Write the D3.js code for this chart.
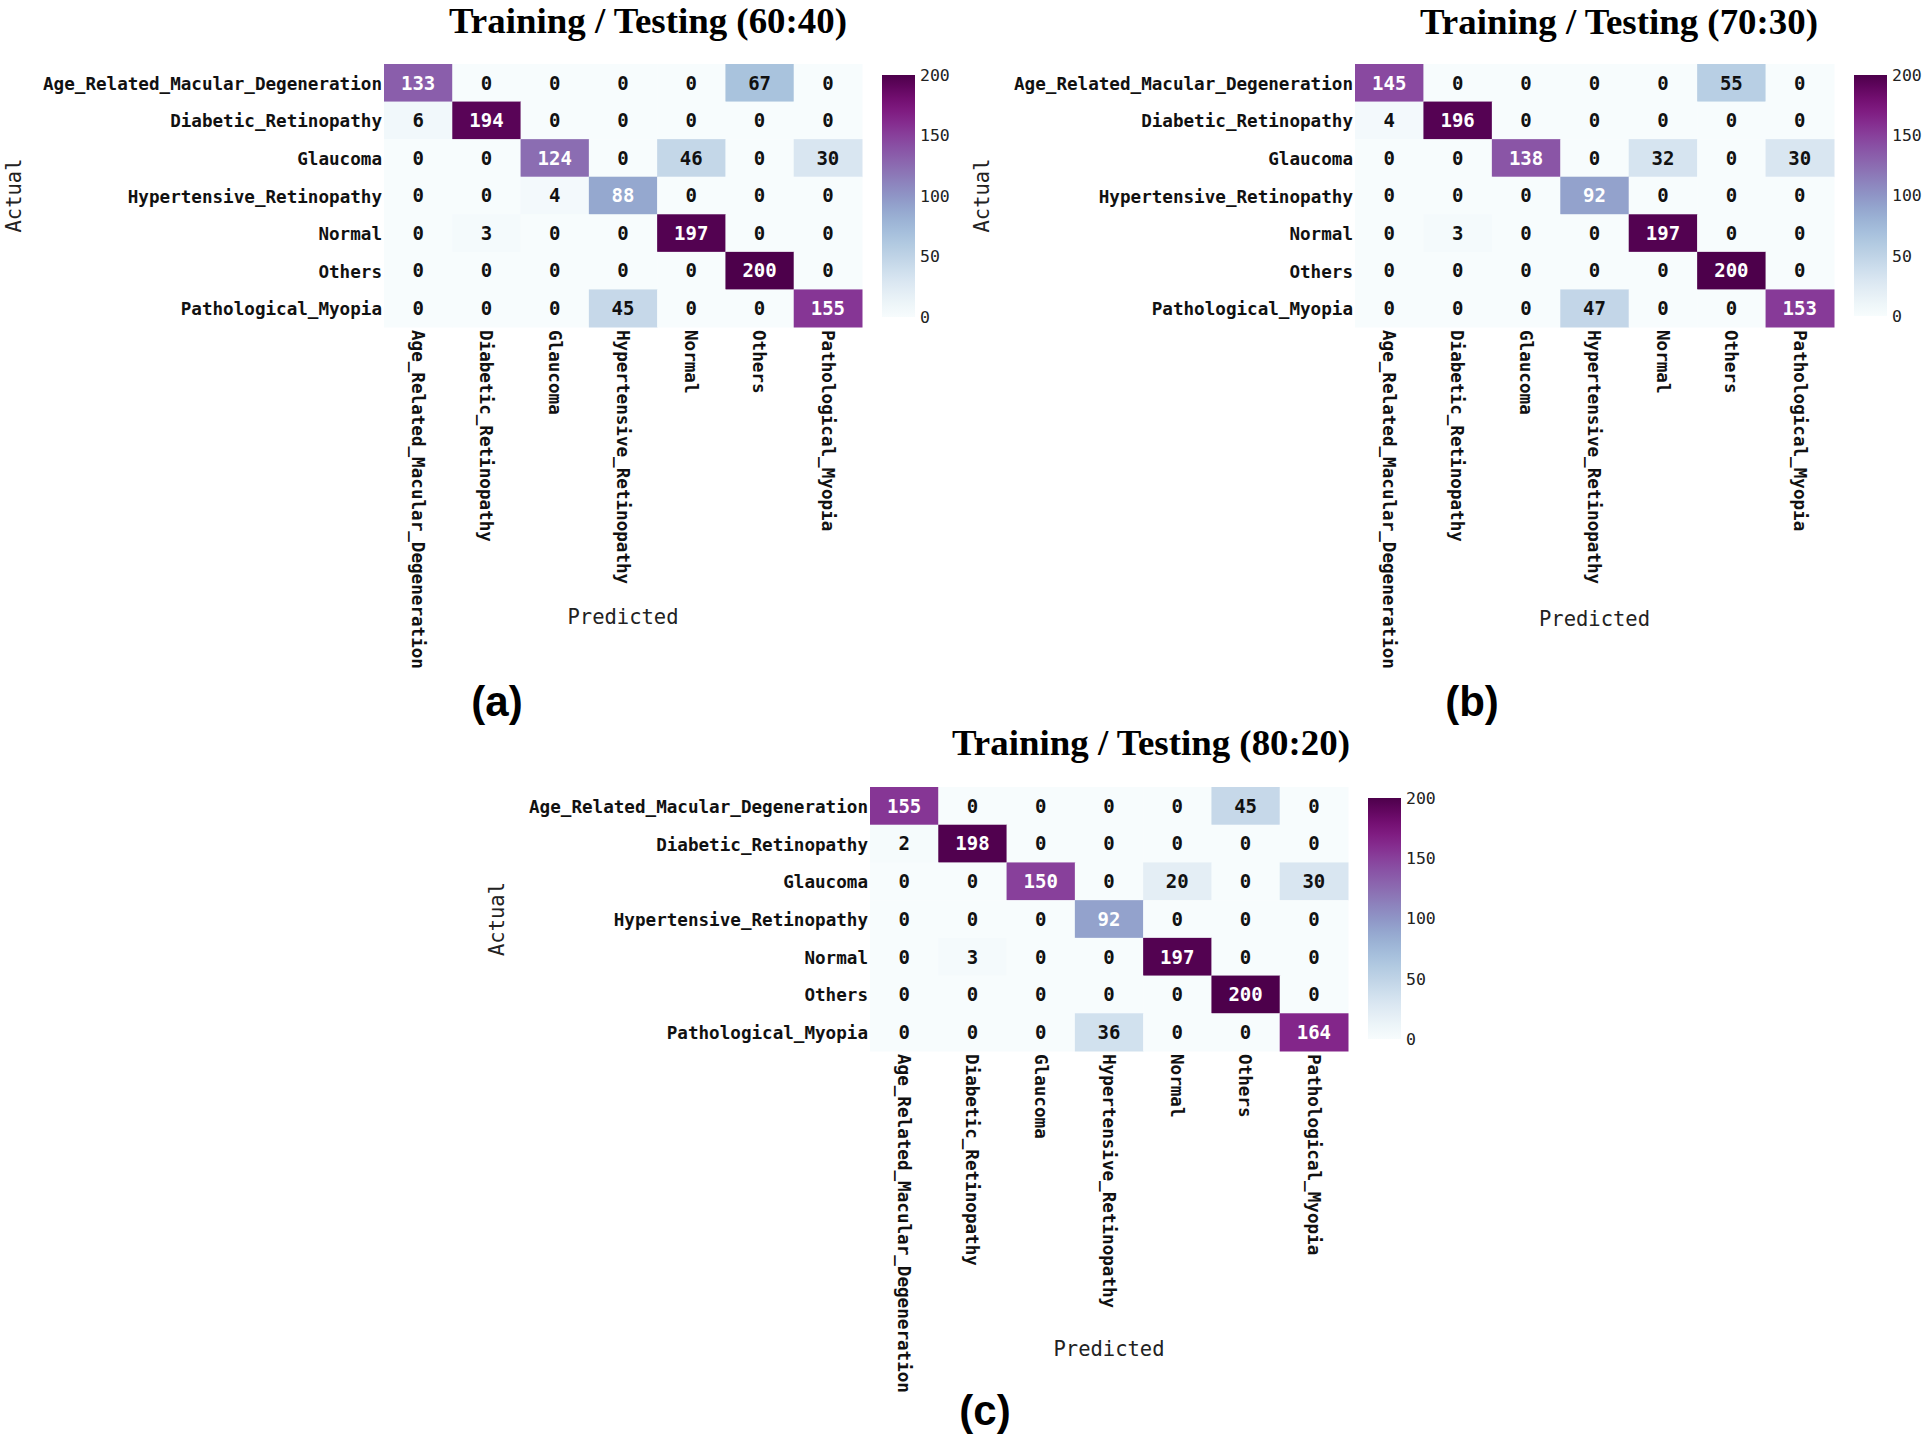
<!DOCTYPE html>
<html>
<head>
<meta charset="utf-8">
<script src="https://cdn.jsdelivr.net/npm/d3@7"></script>
<style>
  html, body { margin: 0; padding: 0; background: #fff; }
  svg { display: block; }
</style>
</head>
<body>
<svg id="chart" width="1925" height="1438"></svg>
<script>
// ---------- DATA ----------
const categories = [
  "Age_Related_Macular_Degeneration",
  "Diabetic_Retinopathy",
  "Glaucoma",
  "Hypertensive_Retinopathy",
  "Normal",
  "Others",
  "Pathological_Myopia"
];

const matrix6040 = [
  [133, 0, 0, 0, 0, 67, 0],
  [6, 194, 0, 0, 0, 0, 0],
  [0, 0, 124, 0, 46, 0, 30],
  [0, 0, 4, 88, 0, 0, 0],
  [0, 3, 0, 0, 197, 0, 0],
  [0, 0, 0, 0, 0, 200, 0],
  [0, 0, 0, 45, 0, 0, 155]
];

const matrix7030 = [
  [145, 0, 0, 0, 0, 55, 0],
  [4, 196, 0, 0, 0, 0, 0],
  [0, 0, 138, 0, 32, 0, 30],
  [0, 0, 0, 92, 0, 0, 0],
  [0, 3, 0, 0, 197, 0, 0],
  [0, 0, 0, 0, 0, 200, 0],
  [0, 0, 0, 47, 0, 0, 153]
];

const matrix8020 = [
  [155, 0, 0, 0, 0, 45, 0],
  [2, 198, 0, 0, 0, 0, 0],
  [0, 0, 150, 0, 20, 0, 30],
  [0, 0, 0, 92, 0, 0, 0],
  [0, 3, 0, 0, 197, 0, 0],
  [0, 0, 0, 0, 0, 200, 0],
  [0, 0, 0, 36, 0, 0, 164]
];

const panelTitles = ["Training / Testing (60:40)", "Training / Testing (70:30)", "Training / Testing (80:20)"];
const panelLetters = ["(a)", "(b)", "(c)"];
const colorbarTicks = [0, 50, 100, 150, 200];
const colorDomain = [0, 200];
const xAxisLabel = "Predicted";
const yAxisLabel = "Actual";

// ---------- LAYOUT ----------
const layouts = [
  { x0: 384, x1: 862, y0: 64, y1: 327, cbX0: 882, cbX1: 915, cbY0: 75, cbY1: 317,
    titleX: 648, titleY: 33, actualX: 14, predY: 624, letterX: 497, letterY: 716 },
  { x0: 1355, x1: 1834, y0: 64, y1: 327, cbX0: 1854, cbX1: 1887, cbY0: 75, cbY1: 316,
    titleX: 1619, titleY: 34, actualX: 982, predY: 626, letterX: 1472, letterY: 716 },
  { x0: 870, x1: 1348, y0: 787, y1: 1051, cbX0: 1368, cbX1: 1401, cbY0: 798, cbY1: 1039,
    titleX: 1151, titleY: 755, actualX: 497, predY: 1356, letterX: 985, letterY: 1425 }
];

const MONO = "'DejaVu Sans Mono', 'Liberation Mono', monospace";
const svg = d3.select("#chart");
svg.append("rect").attr("width", 1925).attr("height", 1438).attr("fill", "#fff");

const color = d3.scaleSequential(d3.interpolateBuPu).domain(colorDomain);

// gradient for colorbar
const defs = svg.append("defs");
const grad = defs.append("linearGradient").attr("id", "bupu")
  .attr("x1", 0).attr("y1", 1).attr("x2", 0).attr("y2", 0);
d3.range(0, 1.0001, 0.05).forEach(t => {
  grad.append("stop").attr("offset", t).attr("stop-color", d3.interpolateBuPu(t));
});

const matrices = [matrix6040, matrix7030, matrix8020];

matrices.forEach((mat, p) => {
  const L = layouts[p];
  const g = svg.append("g");

  const x = d3.scaleBand().domain(categories).range([L.x0, L.x1]).padding(0);
  const y = d3.scaleBand().domain(categories).range([L.y0, L.y1]).padding(0);

  const cells = [];
  mat.forEach((row, i) => row.forEach((v, j) => cells.push({ r: categories[i], c: categories[j], v })));

  g.selectAll("rect.cell").data(cells).join("rect")
    .attr("class", "cell")
    .attr("x", d => x(d.c))
    .attr("y", d => y(d.r))
    .attr("width", x.bandwidth() + 0.5)
    .attr("height", y.bandwidth() + 0.5)
    .attr("fill", d => color(d.v));

  g.selectAll("text.ann").data(cells).join("text")
    .attr("class", "ann")
    .attr("x", d => x(d.c) + x.bandwidth() / 2)
    .attr("y", d => y(d.r) + y.bandwidth() / 2)
    .attr("dy", "0.36em")
    .attr("text-anchor", "middle")
    .style("font-family", MONO)
    .style("font-weight", "bold")
    .style("font-size", "19px")
    .attr("fill", d => d.v > 75 ? "#ffffff" : "#111111")
    .text(d => d.v);

  // y axis (row labels)
  const yAxis = g.append("g").attr("transform", `translate(${L.x0},0)`)
    .call(d3.axisLeft(y).tickSize(0).tickPadding(2));
  yAxis.select(".domain").remove();
  yAxis.selectAll("text")
    .attr("dy", "0.4em")
    .style("font-family", MONO).style("font-weight", "bold").style("font-size", "17.6px")
    .attr("fill", "#111");

  // x axis (column labels rotated)
  const xAxis = g.append("g").attr("transform", `translate(0,${L.y1})`)
    .call(d3.axisBottom(x).tickSize(0));
  xAxis.select(".domain").remove();
  xAxis.selectAll("text")
    .attr("y", 0).attr("x", 3).attr("dy", "0.35em")
    .attr("transform", "rotate(90)")
    .style("text-anchor", "start")
    .style("font-family", MONO).style("font-weight", "bold").style("font-size", "17.6px")
    .attr("fill", "#111");

  // colorbar
  g.append("rect")
    .attr("x", L.cbX0).attr("y", L.cbY0)
    .attr("width", L.cbX1 - L.cbX0).attr("height", L.cbY1 - L.cbY0)
    .attr("fill", "url(#bupu)");
  const cbScale = d3.scaleLinear().domain(colorDomain).range([L.cbY1, L.cbY0]);
  const cbAxis = g.append("g").attr("transform", `translate(${L.cbX1},0)`)
    .call(d3.axisRight(cbScale).tickValues(colorbarTicks).tickSize(0).tickPadding(5));
  cbAxis.select(".domain").remove();
  cbAxis.selectAll("text")
    .style("font-family", MONO).style("font-size", "16.5px").attr("fill", "#222");

  // axis titles
  g.append("text")
    .attr("transform", `translate(${L.actualX},${(L.y0 + L.y1) / 2}) rotate(-90)`)
    .attr("dy", "0.35em")
    .attr("text-anchor", "middle")
    .style("font-family", MONO).style("font-size", "20.5px").attr("fill", "#222")
    .text(yAxisLabel);
  g.append("text")
    .attr("x", (L.x0 + L.x1) / 2).attr("y", L.predY)
    .attr("text-anchor", "middle")
    .style("font-family", MONO).style("font-size", "20.5px").attr("fill", "#222")
    .text(xAxisLabel);

  // title
  g.append("text")
    .attr("x", L.titleX).attr("y", L.titleY)
    .attr("text-anchor", "middle")
    .attr("textLength", 398)
    .attr("lengthAdjust", "spacingAndGlyphs")
    .style("font-family", "'Liberation Serif', 'Times New Roman', serif")
    .style("font-weight", "bold").style("font-size", "36px").attr("fill", "#000")
    .text(panelTitles[p]);

  // panel letter
  g.append("text")
    .attr("x", L.letterX).attr("y", L.letterY)
    .attr("text-anchor", "middle")
    .style("font-family", "'Liberation Sans', Arial, sans-serif")
    .style("font-weight", "bold").style("font-size", "42px").attr("fill", "#000")
    .text(panelLetters[p]);
});
</script>
</body>
</html>
